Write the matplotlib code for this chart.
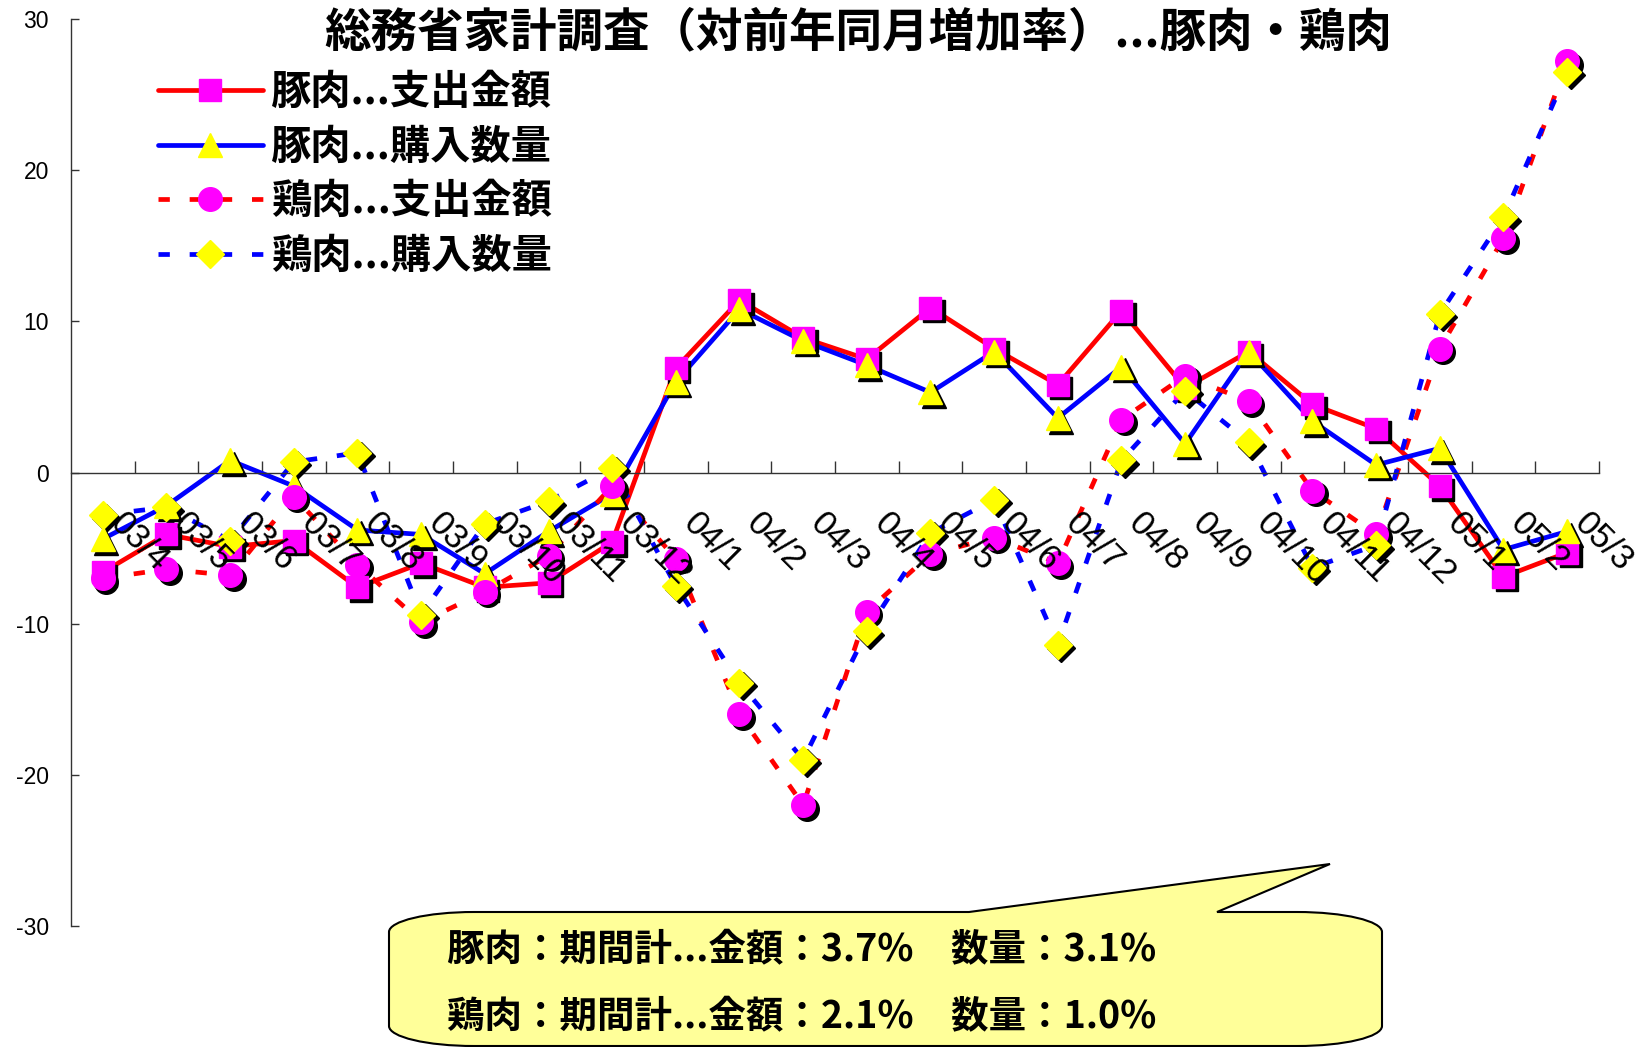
import matplotlib
matplotlib.use("Agg")
import matplotlib.pyplot as plt
import numpy as np
from matplotlib.lines import Line2D
from matplotlib.path import Path
from matplotlib.patches import PathPatch
from matplotlib.transforms import ScaledTranslation
from matplotlib.font_manager import FontProperties

plt.rcParams['axes.unicode_minus'] = False
CJK = ['Noto Sans CJK JP', 'DejaVu Sans']
LAT = ['Liberation Sans', 'DejaVu Sans']

# data (year-over-year change, %)
months = ["03/4", "03/5", "03/6", "03/7", "03/8", "03/9", "03/10", "03/11", "03/12",
          "04/1", "04/2", "04/3", "04/4", "04/5", "04/6", "04/7", "04/8", "04/9",
          "04/10", "04/11", "04/12", "05/1", "05/2", "05/3"]
pork_amount = [-6.6, -4.1, -4.9, -4.5, -7.6, -6.0, -7.6, -7.3, -4.6, 6.9, 11.4, 8.9,
               7.5, 10.9, 8.2, 5.8, 10.7, 5.6, 8.0, 4.5, 2.9, -0.9, -6.9, -5.3]
pork_qty = [-4.4, -2.2, 0.8, -0.9, -3.8, -4.1, -6.7, -3.9, -1.4, 6.0, 10.8, 8.7,
            7.1, 5.3, 8.0, 3.6, 7.0, 1.9, 8.0, 3.4, 0.5, 1.6, -5.1, -3.9]
chicken_amount = [-7.0, -6.4, -6.8, -1.6, -6.1, -9.9, -7.9, -5.5, -0.9, -5.7, -16.0, -22.0,
                  -9.2, -5.4, -4.3, -6.0, 3.5, 6.4, 4.7, -1.2, -4.1, 8.2, 15.5, 27.2]
chicken_qty = [-2.8, -2.3, -4.5, 0.7, 1.3, -9.4, -3.4, -1.9, 0.3, -7.5, -13.9, -19.0,
               -10.5, -4.0, -1.8, -11.4, 0.8, 5.4, 2.0, -6.3, -4.8, 10.5, 16.9, 26.5]
labels = ["豚肉...支出金額", "豚肉...購入数量", "鶏肉...支出金額", "鶏肉...購入数量"]
title = "総務省家計調査（対前年同月増加率）...豚肉・鶏肉"
note_lines = ["豚肉：期間計...金額：3.7%　数量：3.1%",
              "鶏肉：期間計...金額：2.1%　数量：1.0%"]

W, H = 1649, 1047
def fx(x):
    return x / W
def fy(y):
    return 1 - y / H

fig = plt.figure(figsize=(W / 100, H / 100), dpi=100)
ax = fig.add_axes([fx(71), fy(926), (1599 - 71) / W, (926 - 19) / H])
x = np.arange(len(months))

series = [
    (pork_amount, 'red', '-', 's', 'magenta', 16.5),
    (pork_qty, 'blue', '-', '^', 'yellow', 17.5),
    (chicken_amount, 'red', '--', 'o', 'magenta', 17),
    (chicken_qty, 'blue', '--', 'D', 'yellow', 14),
]

shadow = ax.transData + ScaledTranslation(3.5 / 100, -3.5 / 100, fig.dpi_scale_trans)
handles = []
for vals, lc, ls, mk, mc, ms in series:
    kw = dict(color=lc, lw=3.4, solid_capstyle='round')
    if ls == '--':
        kw['dashes'] = (2.4, 4.2)
    ax.plot(x, vals, zorder=2, **kw)
    handles.append(Line2D([], [], marker=mk, markersize=ms, markerfacecolor=mc,
                          markeredgecolor=mc, **kw))
for vals, lc, ls, mk, mc, ms in series:
    ax.plot(x, vals, ls='none', marker=mk, ms=ms, mfc='black', mec='black',
            transform=shadow, zorder=3, clip_on=False)
    ax.plot(x, vals, ls='none', marker=mk, ms=ms, mfc=mc, mec=mc, zorder=4,
            clip_on=False)

ax.set_xlim(-0.5, len(months) - 0.5)
ax.set_ylim(-30, 30)
ax.spines['top'].set_visible(False)
ax.spines['right'].set_visible(False)
ax.spines['bottom'].set_position(('data', 0))
for s in ['left', 'bottom']:
    ax.spines[s].set_color('#333333')
    ax.spines[s].set_linewidth(1.0)
ax.set_xticks(np.arange(0.5, len(months), 1))
ax.tick_params(axis='x', direction='in', length=8.5, width=1.0, color='#333333',
               labelbottom=False)
ax.set_yticks(range(-30, 31, 10))
ax.tick_params(axis='y', direction='in', length=6, width=1.0, color='#333333',
               labelsize=16.5, pad=16)
for t in ax.get_yticklabels():
    t.set_family(LAT)

lab_off = ax.transData + ScaledTranslation(24 / 100, -34 / 100, fig.dpi_scale_trans)
for i, m in enumerate(months):
    ax.text(i, 0, m, rotation=-45, rotation_mode='anchor', ha='left', va='top',
            fontsize=25, family=LAT, transform=lab_off, zorder=5)

fig.text(fx(858), fy(32), title, ha='center', va='center', fontsize=33.5,
         fontweight='bold', family=CJK)

leg = ax.legend(handles, labels, loc='upper left', bbox_to_anchor=(fx(158), fy(72)),
                bbox_transform=fig.transFigure, frameon=False, handlelength=2.6,
                handletextpad=0.2, labelspacing=0.34, borderpad=0, borderaxespad=0,
                prop=FontProperties(family=CJK, weight='bold', size=29))

# callout box
L, R, T, B = 389, 1382, 912, 1046
rx, ry = 85, 20
k = 0.5523
b1, b2, tip = 969, 1217, (1330, 864)
pts = [(L + rx, T), (b1, T), tip, (b2, T), (R - rx, T),
       (R - rx + k * rx, T), (R, T + ry - k * ry), (R, T + ry),
       (R, B - ry),
       (R, B - ry + k * ry), (R - rx + k * rx, B), (R - rx, B),
       (L + rx, B),
       (L + rx - k * rx, B), (L, B - ry + k * ry), (L, B - ry),
       (L, T + ry),
       (L, T + ry - k * ry), (L + rx - k * rx, T), (L + rx, T)]
codes = [Path.MOVETO, Path.LINETO, Path.LINETO, Path.LINETO, Path.LINETO,
         Path.CURVE4, Path.CURVE4, Path.CURVE4, Path.LINETO,
         Path.CURVE4, Path.CURVE4, Path.CURVE4, Path.LINETO,
         Path.CURVE4, Path.CURVE4, Path.CURVE4, Path.LINETO,
         Path.CURVE4, Path.CURVE4, Path.CURVE4]
verts = [(fx(px), fy(py)) for px, py in pts]
fig.patches.append(PathPatch(Path(verts, codes), facecolor='#ffff99', edgecolor='black',
                             lw=1.5, transform=fig.transFigure, zorder=1))
for yy, line in zip([950, 1017], note_lines):
    fig.text(fx(447), fy(yy), line, ha='left', va='center', fontsize=27,
             fontweight='bold', family=CJK)

fig.savefig("out.png", dpi=100)
